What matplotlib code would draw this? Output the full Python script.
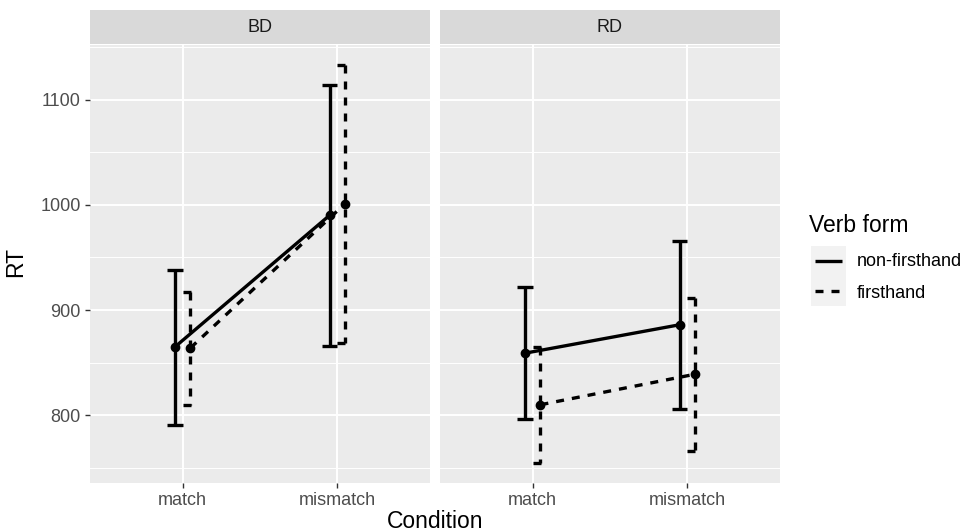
import matplotlib
matplotlib.use("Agg")
import matplotlib.pyplot as plt
from matplotlib.lines import Line2D

plt.rcParams["font.family"] = ["Liberation Sans", "DejaVu Sans"]

# data: mean RT with interval bounds per panel/series
panels = ["BD", "RD"]
conditions = ["match", "mismatch"]
series = ["non-firsthand", "firsthand"]

bd_nonfirst_mean = [865, 990]
bd_nonfirst_low = [791, 866]
bd_nonfirst_high = [938, 1114]
bd_first_mean = [864, 1001]
bd_first_low = [810, 869]
bd_first_high = [917, 1133]

rd_nonfirst_mean = [859, 886]
rd_nonfirst_low = [796, 806]
rd_nonfirst_high = [922, 966]
rd_first_mean = [810, 839]
rd_first_low = [755, 766]
rd_first_high = [865, 911]

data = {
    "BD": [(bd_nonfirst_mean, bd_nonfirst_low, bd_nonfirst_high),
           (bd_first_mean, bd_first_low, bd_first_high)],
    "RD": [(rd_nonfirst_mean, rd_nonfirst_low, rd_nonfirst_high),
           (rd_first_mean, rd_first_low, rd_first_high)],
}

W, H = 966, 532
LW = 2.4
DASH = (0, (2.4, 2.4))
styles = ["-", DASH]
offsets = [-0.05, 0.05]
CAP = 0.05
SMALL, BIG = 13.0, 16.5

all_vals = [v for p in data.values() for s in p for arr in s for v in arr]
lo, hi = min(all_vals), max(all_vals)
pad = (hi - lo) * 0.05
ylim = (lo - pad, hi + pad)

fig = plt.figure(figsize=(W / 100, H / 100), dpi=100)


def px_axes(x0, y0, x1, y1):
    return fig.add_axes([x0 / W, 1 - y1 / H, (x1 - x0) / W, (y1 - y0) / H])


for i, name in enumerate(panels):
    x0 = 90 + i * 350
    ax = px_axes(x0, 45, x0 + 340, 482.5)
    ax.set_facecolor("#EBEBEB")
    for s in ax.spines.values():
        s.set_visible(False)
    ax.set_xlim(0.4, 2.6)
    ax.set_ylim(*ylim)
    ax.set_yticks([800, 900, 1000, 1100])
    ax.set_yticks([750, 850, 950, 1050, 1150], minor=True)
    ax.set_xticks([1, 2])
    ax.set_xticklabels(conditions)
    ax.grid(True, which="major", color="white", lw=1.4)
    ax.grid(True, which="minor", axis="y", color="white", lw=0.7)
    ax.set_axisbelow(True)
    ax.tick_params(axis="both", which="major", length=3.5, width=1.0, color="#333333",
                   labelcolor="#4D4D4D", labelsize=SMALL, pad=3)
    ax.tick_params(axis="both", which="minor", length=0)
    if i == 1:
        ax.tick_params(axis="y", which="major", length=0, labelleft=False)

    for (mean, low, high), ls, off in zip(data[name], styles, offsets):
        xs = [k + 1 + off for k in range(len(conditions))]
        ax.plot(xs, mean, color="black", lw=LW, linestyle=ls, zorder=3)
        ax.plot(xs, mean, "o", color="black", ms=6, zorder=4)
        for x, l, h in zip(xs, low, high):
            # cap top, vertical, cap bottom as separate strokes (ggplot style)
            ax.plot([x - CAP, x + CAP], [h, h], color="black", lw=LW, linestyle=ls,
                    solid_capstyle="butt", dash_capstyle="butt", zorder=3)
            ax.plot([x, x], [h, l], color="black", lw=LW, linestyle=ls,
                    solid_capstyle="butt", dash_capstyle="butt", zorder=3)
            ax.plot([x - CAP, x + CAP], [l, l], color="black", lw=LW, linestyle=ls,
                    solid_capstyle="butt", dash_capstyle="butt", zorder=3)

    strip = px_axes(x0, 10, x0 + 340, 44)
    strip.set_facecolor("#D9D9D9")
    strip.set_xticks([]); strip.set_yticks([])
    for s in strip.spines.values():
        s.set_visible(False)
    strip.text(0.5, 0.5, name, ha="center", va="center", fontsize=SMALL,
               color="#1A1A1A", transform=strip.transAxes)

fig.text(16 / W, 1 - 262 / H, "RT", rotation=90, ha="center", va="center", fontsize=BIG)
fig.text(435 / W, 1 - 521 / H, "Condition", ha="center", va="center", fontsize=BIG)

# legend
fig.text(809 / W, 1 - 226 / H, "Verb form", ha="left", va="center", fontsize=BIG)
key = px_axes(811, 246, 846, 306)
key.set_facecolor("#F2F2F2")
key.set_xlim(0, 1); key.set_ylim(0, 2)
key.set_xticks([]); key.set_yticks([])
for s in key.spines.values():
    s.set_visible(False)
for j, (lab, ls) in enumerate(zip(series, styles)):
    yk = 1.5 - j
    key.add_line(Line2D([0.12, 0.88], [yk, yk], color="black", lw=LW, linestyle=ls,
                        dash_capstyle="butt", solid_capstyle="butt"))
    fig.text(857 / W, 1 - (262 + 31 * j) / H, lab, ha="left", va="center",
             fontsize=SMALL, color="black")

fig.savefig("out.png", dpi=100)
